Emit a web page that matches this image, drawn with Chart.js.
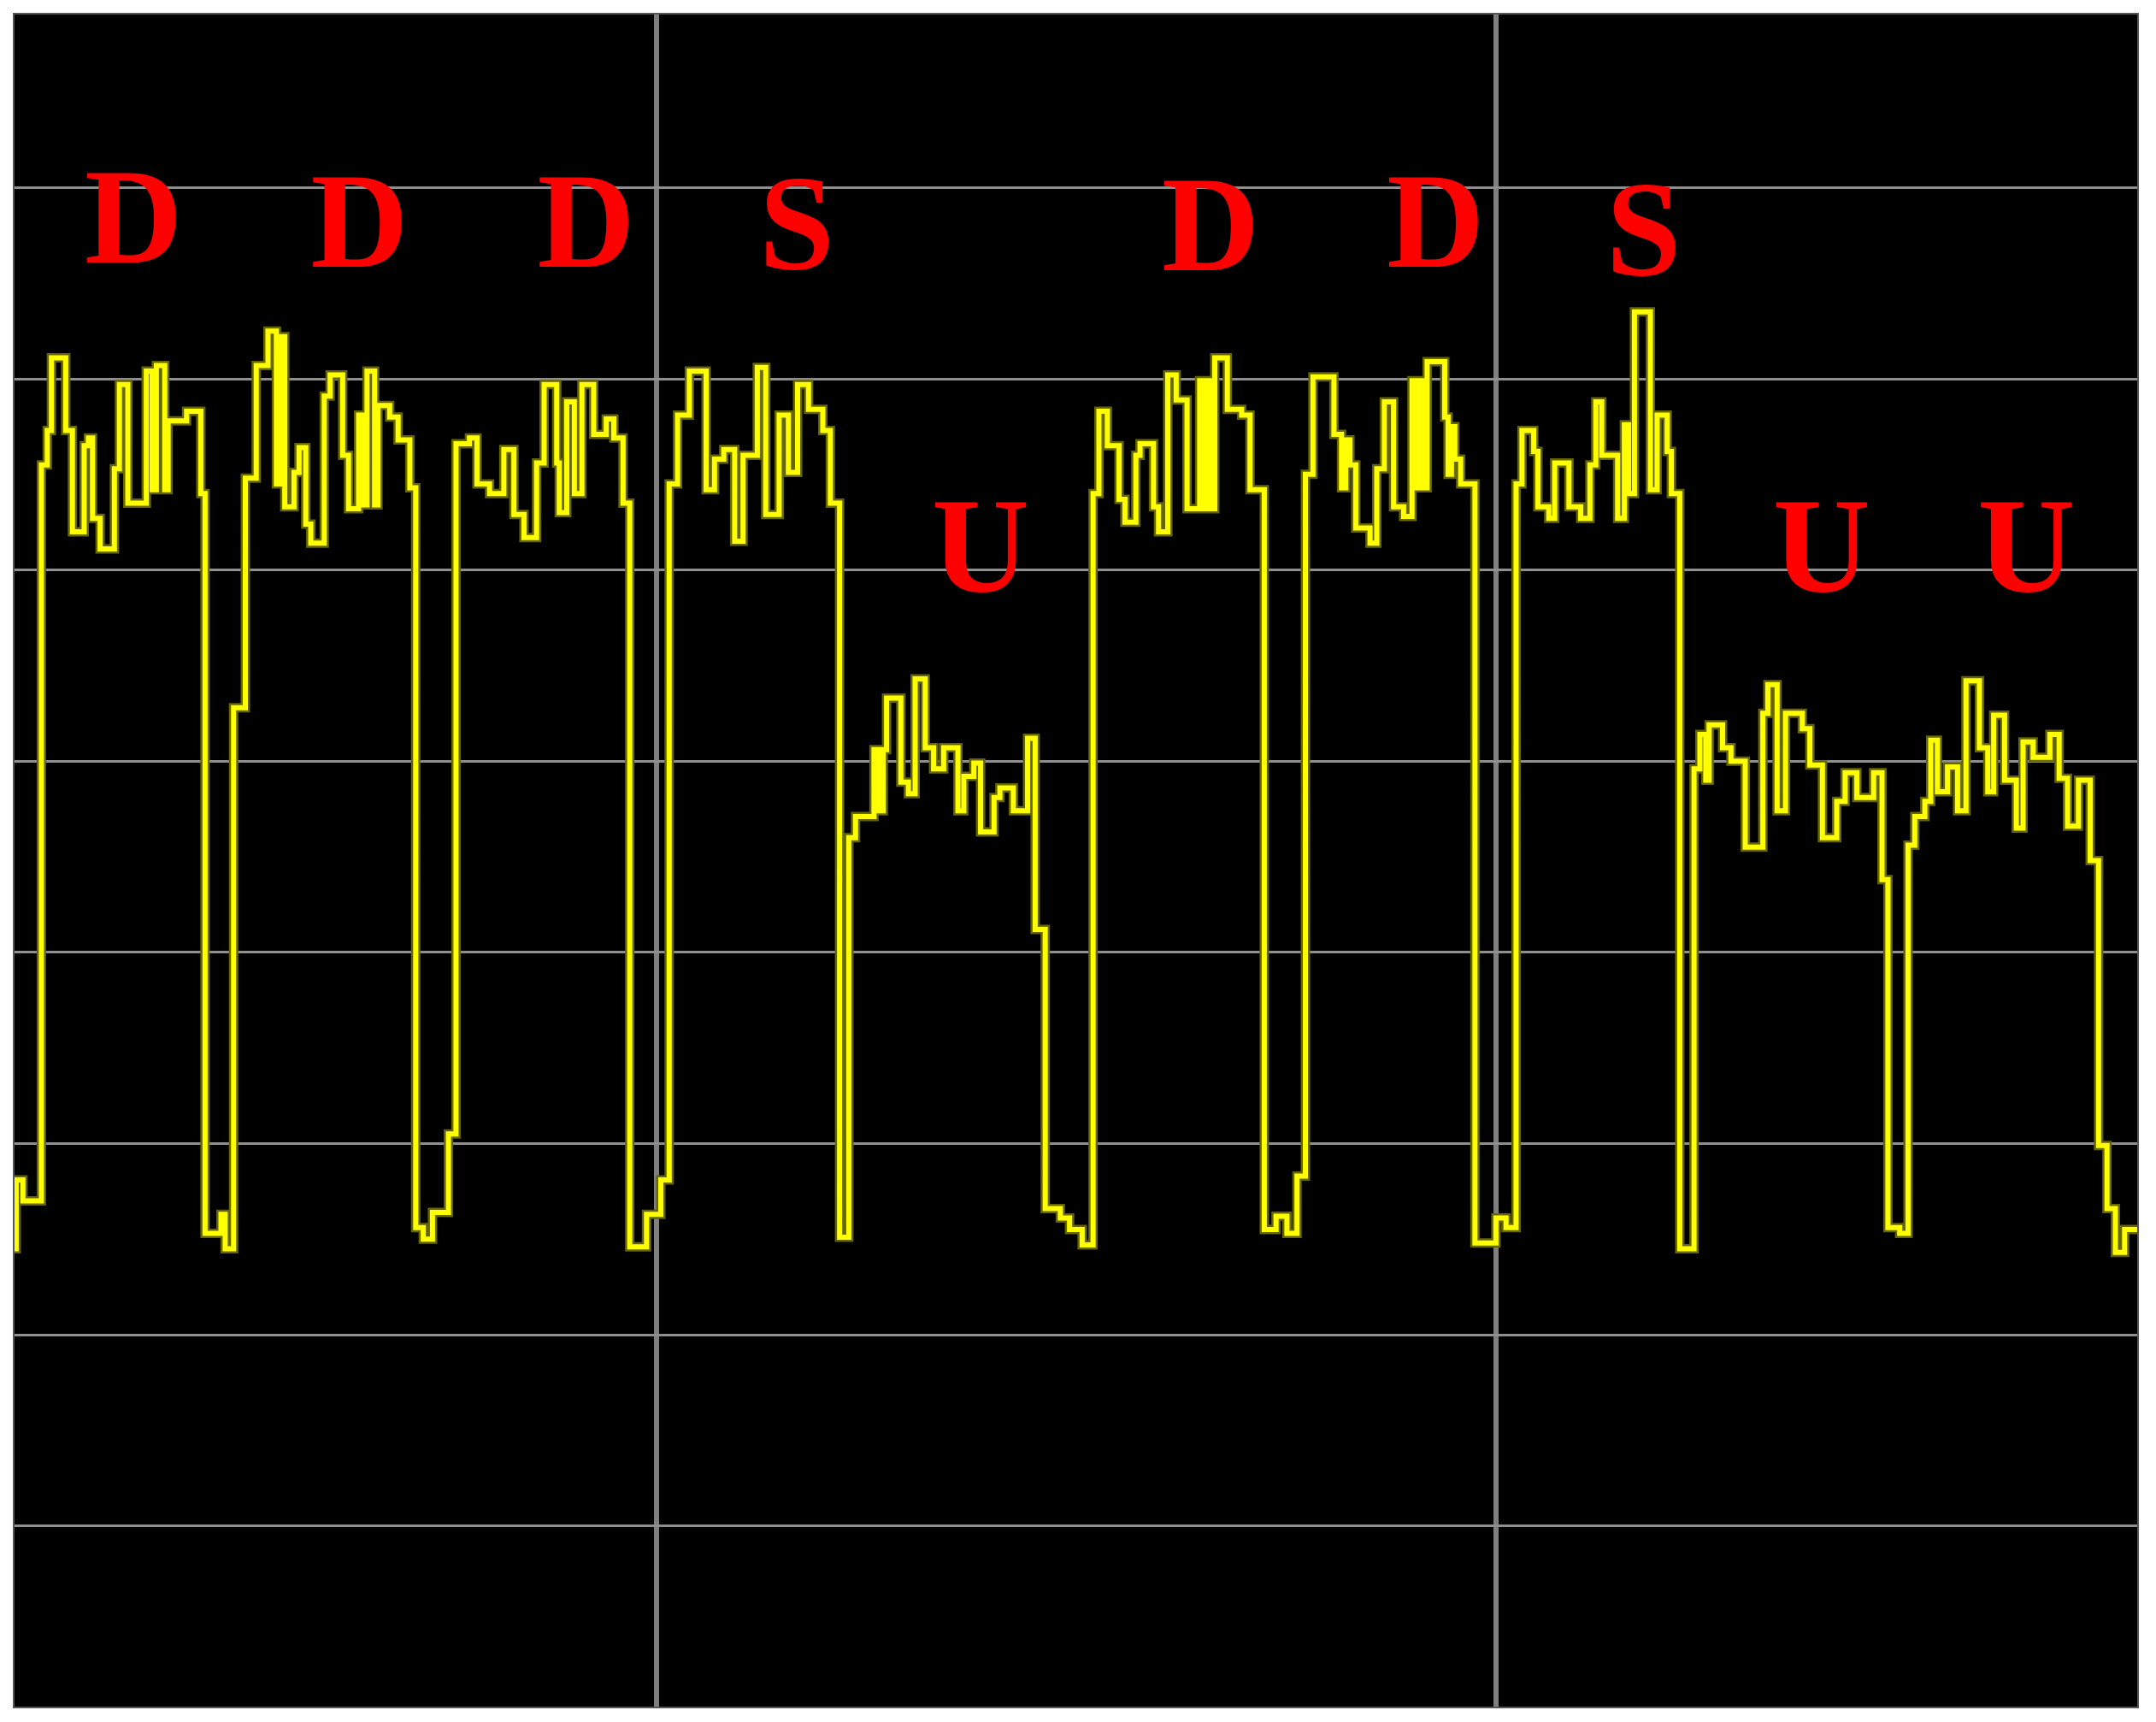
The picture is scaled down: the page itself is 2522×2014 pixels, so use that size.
<!DOCTYPE html>
<html>
<head>
<meta charset="utf-8">
<script src="https://cdn.jsdelivr.net/npm/chart.js@4.4.0/dist/chart.umd.min.js"></script>
<style>
  html, body { margin: 0; padding: 0; background: #ffffff; }
  #signal { display: block; }
</style>
</head>
<body>
<canvas id="signal" width="2522" height="2014"></canvas>
<script>
// step times (ms) and the level that starts at each time
const stepTimes = [
  234, 237, 245, 267, 274, 279, 296, 304, 318, 323, 328, 337, 354, 360, 370, 392, 399, 404, 414, 418,
  440, 457, 462, 481, 486, 496, 510, 523, 537, 547, 551, 557, 568, 574, 582, 588, 604, 611, 626, 633,
  645, 650, 655, 664, 668, 682, 692, 706, 713, 722, 733, 752, 761, 777, 786, 801, 818, 830, 842, 857,
  866, 881, 884, 893, 902, 911, 925, 940, 949, 960, 968, 988, 1005, 1015, 1025, 1039, 1059, 1069, 1080, 1093,
  1103, 1120, 1130, 1146, 1157, 1168, 1181, 1198, 1207, 1218, 1229, 1237, 1259, 1265, 1270, 1274, 1291, 1300, 1308, 1320,
  1330, 1342, 1359, 1366, 1378, 1386, 1402, 1409, 1425, 1442, 1451, 1463, 1481, 1492, 1507, 1520, 1527, 1537, 1551, 1558,
  1571, 1576, 1592, 1598, 1609, 1619, 1632, 1647, 1652, 1656, 1661, 1665, 1680, 1697, 1707, 1724, 1738, 1751, 1763, 1773,
  1782, 1807, 1816, 1821, 1826, 1833, 1850, 1858, 1867, 1878, 1890, 1900, 1906, 1910, 1914, 1918, 1939, 1943, 1947, 1951,
  1958, 1975, 2000, 2012, 2024, 2031, 2045, 2050, 2063, 2070, 2087, 2101, 2112, 2119, 2126, 2145, 2153, 2158, 2165, 2184,
  2192, 2204, 2209, 2219, 2236, 2243, 2250, 2254, 2270, 2280, 2297, 2318, 2324, 2335, 2345, 2365, 2374, 2389, 2406, 2416,
  2430, 2450, 2460, 2467, 2481, 2491, 2499, 2511, 2518, 2526, 2538, 2550, 2560, 2576, 2586, 2593, 2606, 2620, 2628, 2640,
  2660, 2671, 2681, 2694, 2708, 2718, 2728, 2738, 2749, 2765
];
const levels = [
  245, 281, 270, 655, 673, 711, 673, 620, 665, 669, 627, 611, 653, 697, 635, 704, 642, 707, 642, 678,
  683, 640, 253, 263, 245, 528, 648, 707, 725, 645, 722, 633, 651, 664, 624, 614, 691, 702, 660, 632,
  681, 634, 704, 634, 686, 680, 668, 643, 256, 250, 264, 305, 666, 669, 645, 640, 663, 629, 617, 656,
  697, 656, 630, 688, 640, 697, 671, 679, 669, 635, 246, 263, 281, 645, 681, 704, 642, 658, 663, 615,
  660, 706, 629, 681, 651, 697, 684, 673, 635, 251, 460, 471, 506, 474, 506, 533, 489, 483, 543, 507,
  496, 507, 474, 492, 499, 463, 481, 486, 474, 512, 412, 266, 261, 255, 247, 640, 683, 665, 637, 625,
  660, 666, 633, 620, 702, 689, 632, 699, 632, 699, 632, 711, 684, 681, 642, 255, 262, 253, 283, 650,
  701, 671, 643, 668, 655, 622, 614, 653, 688, 633, 628, 699, 643, 699, 643, 709, 680, 650, 675, 658,
  645, 248, 261, 256, 645, 673, 662, 633, 627, 656, 633, 627, 655, 688, 660, 627, 676, 640, 735, 642,
  681, 662, 640, 245, 496, 514, 490, 519, 507, 500, 455, 525, 540, 474, 525, 517, 498, 460, 479, 494,
  481, 494, 438, 256, 253, 456, 471, 479, 511, 484, 497, 474, 542, 507, 484, 524, 490, 465, 510, 502,
  514, 491, 466, 490, 448, 299, 266, 243, 255, 255
];

const xTicks = [1000, 2000];
const yTicks = [100, 200, 300, 400, 500, 600, 700, 800];

// segment labels
const segLabels = ['D', 'D', 'D', 'S', 'U', 'D', 'D', 'S', 'U', 'U'];
const segTimes = [377, 646, 916, 1167, 1386, 1660, 1928, 2176, 2388, 2632];
const segLevels = [784, 782, 782, 781, 612, 780, 782, 778, 612, 612];

document.addEventListener("DOMContentLoaded", function() {
  const canvas = document.getElementById('signal');
  const points = stepTimes.map((t, i) => ({ x: t, y: levels[i] }));

  const scopeBackground = {
    id: 'scopeBackground',
    beforeDraw(chart) {
      const { ctx, chartArea: a } = chart;
      ctx.save();
      ctx.fillStyle = '#000000';
      ctx.fillRect(a.left, a.top, a.right - a.left, a.bottom - a.top);
      ctx.restore();
    },
    afterDraw(chart) {
      const { ctx, chartArea: a } = chart;
      ctx.save();
      ctx.strokeStyle = '#555555';
      ctx.lineWidth = 2;
      ctx.strokeRect(a.left, a.top, a.right - a.left, a.bottom - a.top);
      ctx.restore();
    }
  };

  const letters = {
    id: 'letters',
    afterDatasetsDraw(chart) {
      const { ctx, scales } = chart;
      const size = 158;
      ctx.save();
      ctx.font = 'bold ' + size + 'px "Liberation Serif", "DejaVu Serif", serif';
      ctx.fillStyle = '#ff0000';
      ctx.textAlign = 'center';
      ctx.textBaseline = 'alphabetic';
      segLabels.forEach((txt, i) => {
        const x = scales.x.getPixelForValue(segTimes[i]);
        const y = scales.y.getPixelForValue(segLevels[i]);
        ctx.fillText(txt, x, y + size * 0.33);
      });
      ctx.restore();
    }
  };

  new Chart(canvas, {
    type: 'line',
    data: {
      datasets: [{
        data: points,
        borderColor: '#ffff00',
        borderWidth: 6,
        stepped: true,
        pointRadius: 0,
        fill: false,
        order: 1
      }, {
        data: points,
        borderColor: '#666600',
        borderWidth: 11,
        stepped: true,
        pointRadius: 0,
        fill: false,
        order: 2
      }]
    },
    options: {
      responsive: false,
      animation: false,
      devicePixelRatio: 1,
      layout: { padding: { left: 16, top: 16, right: 21, bottom: 17 } },
      plugins: { legend: { display: false }, tooltip: { enabled: false } },
      scales: {
        x: {
          type: 'linear',
          min: 234,
          max: 2765,
          afterBuildTicks: (axis) => { axis.ticks = xTicks.map(v => ({ value: v })); },
          ticks: { display: false },
          border: { display: false },
          grid: { color: '#7f7f7f', lineWidth: 6, drawTicks: false }
        },
        y: {
          type: 'linear',
          min: 5,
          max: 891,
          afterBuildTicks: (axis) => { axis.ticks = yTicks.map(v => ({ value: v })); },
          ticks: { display: false },
          border: { display: false },
          grid: { color: '#8f8f8f', lineWidth: 3, drawTicks: false }
        }
      }
    },
    plugins: [scopeBackground, letters]
  });
});
</script>
</body>
</html>
